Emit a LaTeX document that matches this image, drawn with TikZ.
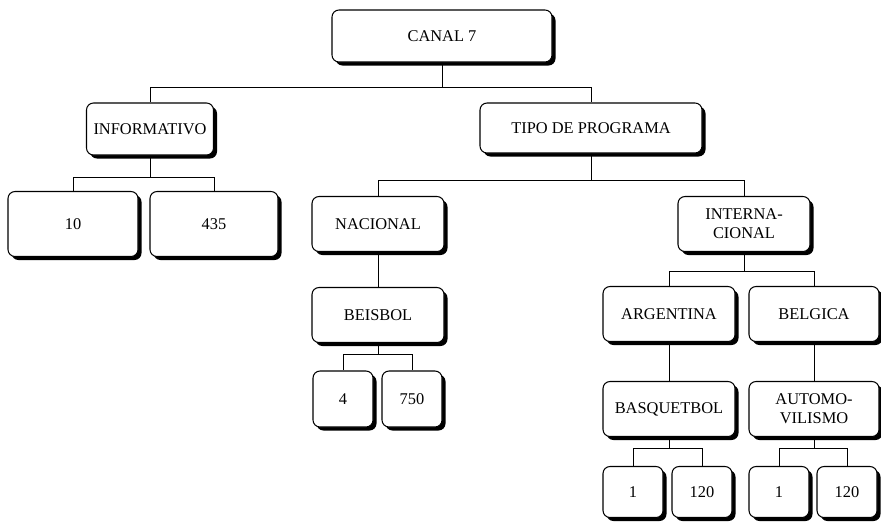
\documentclass[tikz,border=0pt]{standalone}
\usepackage{fontspec}
\setmainfont{Liberation Serif}
\usetikzlibrary{shadows}

\begin{document}
\begin{tikzpicture}[x=0.03cm,y=-0.03cm,font=\fontsize{14}{16}\selectfont,
 box/.style={draw=black,line width=0.9pt,rounded corners=6pt,fill=white,align=center,inner sep=0pt,
  minimum width=3.96cm,minimum height=1.65cm,
  drop shadow={shadow xshift=3pt,shadow yshift=-3pt,opacity=1,fill=black}},
 small/.style={box,minimum width=1.8cm,minimum height=1.68cm},
 branch/.style={to path={(\tikztostart) -- ++(0,#1) -| (\tikztotarget)}},
 link/.style={line width=0.6pt}]
\fill[white] (0,0) rectangle (881,522);
\useasboundingbox (0,0) rectangle (881,522);
% top of the tree
\node[box,minimum width=6.6cm,minimum height=1.56cm] (canal) at (442,36) {CANAL 7};
\node[box,minimum width=3.81cm,minimum height=1.56cm] (informativo) at (150,129) {INFORMATIVO};
\node[box,minimum width=6.66cm,minimum height=1.5cm] (tipo) at (591,128) {TIPO DE PROGRAMA};
\node[box,minimum width=3.9cm,minimum height=1.95cm] (n10) at (73,224) {10};
\node[box,minimum width=3.84cm,minimum height=1.95cm] (n435) at (214,224) {435};
% nacional branch
\node[box] (nacional) at (378,224) {NACIONAL};
\node[box] (beisbol) at (378,315) {BEISBOL};
\node[small] (b4) at (343,399) {4};
\node[small] (b750) at (412,399) {750};
% internacional branch
\node[box] (internacional) at (744,224) {INTERNA-\\CIONAL};
\node[box] (argentina) at (669,314) {ARGENTINA};
\node[box,minimum width=3.9cm] (belgica) at (814,314) {BELGICA};
\node[box] (basquetbol) at (669,409) {BASQUETBOL};
\node[box,minimum width=3.9cm] (automovilismo) at (814,409) {AUTOMO-\\VILISMO};
\node[small,minimum height=1.53cm] (arg1) at (633,492) {1};
\node[small,minimum height=1.53cm] (arg120) at (702,492) {120};
\node[small,minimum height=1.53cm] (bel1) at (779,492) {1};
\node[small,minimum height=1.53cm] (bel120) at (847,492) {120};
% connectors
\draw[link] (canal.south) edge[branch=25] (informativo.north) edge[branch=25] (tipo.north);
\draw[link] (informativo.south) edge[branch=22] (n10.north) edge[branch=22] (n435.north);
\draw[link] (tipo.south) edge[branch=27] (nacional.north) edge[branch=27] (internacional.north);
\draw[link] (nacional) -- (beisbol);
\draw[link] (beisbol.south) edge[branch=11] (b4.north) edge[branch=11] (b750.north);
\draw[link] (internacional.south) edge[branch=19] (argentina.north) edge[branch=19] (belgica.north);
\draw[link] (argentina) -- (basquetbol);
\draw[link] (belgica) -- (automovilismo);
\draw[link] (basquetbol.south) edge[branch=11] (arg1.north) edge[branch=11] (arg120.north);
\draw[link] (automovilismo.south) edge[branch=11] (bel1.north) edge[branch=11] (bel120.north);
\end{tikzpicture}
\end{document}
